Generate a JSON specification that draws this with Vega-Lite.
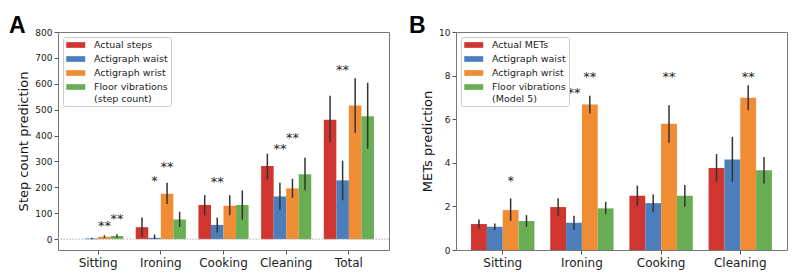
{
  "$schema": "https://vega.github.io/schema/vega-lite/v6.json",
  "padding": {"left": 8, "top": 14, "right": 5, "bottom": 3},
  "spacing": 18,
  "config": {
    "font": "DejaVu Sans",
    "view": {"stroke": "#777", "strokeWidth": 1},
    "axis": {"domain": false, "grid": false, "tickColor": "#555", "tickSize": 4, "labelColor": "#222", "titleColor": "#111", "titleFontWeight": "normal"},
    "axisY": {"labelFontSize": 9, "titleFontSize": 13, "labelPadding": 2, "titlePadding": 4},
    "axisX": {"labelFontSize": 12, "labelAngle": 0, "labelPadding": 3},
    "legend": {"orient": "top-left", "offset": 5, "padding": 3, "strokeColor": "#ccc", "fillColor": "white", "cornerRadius": 2, "labelFontSize": 9.5, "labelColor": "#222", "symbolType": "M-1,-0.6H3V0.6H-1Z", "symbolSize": 90, "symbolStrokeWidth": 0, "symbolOpacity": 1, "rowPadding": 4, "labelOffset": 18, "labelLimit": 200},
    "text": {"font": "DejaVu Sans"}
  },
  "datasets": {
    "stepsData": [
      {"activity": "Sitting", "series": "Actual steps", "value": 0, "lo": 0, "hi": 0},
      {"activity": "Sitting", "series": "Actigraph waist", "value": 2, "lo": 0, "hi": 5},
      {"activity": "Sitting", "series": "Actigraph wrist", "value": 9, "lo": 5, "hi": 15},
      {"activity": "Sitting", "series": "Floor vibrations|(step count)", "value": 12, "lo": 5, "hi": 19},
      {"activity": "Ironing", "series": "Actual steps", "value": 46, "lo": 10, "hi": 84},
      {"activity": "Ironing", "series": "Actigraph waist", "value": 5, "lo": 0, "hi": 18},
      {"activity": "Ironing", "series": "Actigraph wrist", "value": 175, "lo": 136, "hi": 218},
      {"activity": "Ironing", "series": "Floor vibrations|(step count)", "value": 76, "lo": 47, "hi": 106},
      {"activity": "Cooking", "series": "Actual steps", "value": 132, "lo": 92, "hi": 170},
      {"activity": "Cooking", "series": "Actigraph waist", "value": 55, "lo": 26, "hi": 84},
      {"activity": "Cooking", "series": "Actigraph wrist", "value": 129, "lo": 92, "hi": 169},
      {"activity": "Cooking", "series": "Floor vibrations|(step count)", "value": 132, "lo": 75, "hi": 188},
      {"activity": "Cleaning", "series": "Actual steps", "value": 282, "lo": 231, "hi": 330},
      {"activity": "Cleaning", "series": "Actigraph waist", "value": 165, "lo": 113, "hi": 218},
      {"activity": "Cleaning", "series": "Actigraph wrist", "value": 196, "lo": 160, "hi": 233},
      {"activity": "Cleaning", "series": "Floor vibrations|(step count)", "value": 251, "lo": 189, "hi": 314},
      {"activity": "Total", "series": "Actual steps", "value": 461, "lo": 374, "hi": 554},
      {"activity": "Total", "series": "Actigraph waist", "value": 227, "lo": 150, "hi": 303},
      {"activity": "Total", "series": "Actigraph wrist", "value": 516, "lo": 411, "hi": 621},
      {"activity": "Total", "series": "Floor vibrations|(step count)", "value": 475, "lo": 349, "hi": 604}
    ],
    "starsA": [
      {"activity": "Sitting", "series": "Actigraph wrist", "pos": 61, "label": "**"},
      {"activity": "Sitting", "series": "Floor vibrations|(step count)", "pos": 90, "label": "**"},
      {"activity": "Ironing", "series": "Actigraph waist", "pos": 237, "label": "*"},
      {"activity": "Ironing", "series": "Actigraph wrist", "pos": 290, "label": "**"},
      {"activity": "Cooking", "series": "Actigraph waist", "pos": 233, "label": "**"},
      {"activity": "Cleaning", "series": "Actigraph waist", "pos": 358, "label": "**"},
      {"activity": "Cleaning", "series": "Actigraph wrist", "pos": 403, "label": "**"},
      {"activity": "Total", "series": "Actigraph waist", "pos": 665, "label": "**"}
    ],
    "metsData": [
      {"activity": "Sitting", "series": "Actual METs", "value": 1.19, "lo": 0.99, "hi": 1.40},
      {"activity": "Sitting", "series": "Actigraph waist", "value": 1.07, "lo": 0.92, "hi": 1.22},
      {"activity": "Sitting", "series": "Actigraph wrist", "value": 1.83, "lo": 1.34, "hi": 2.37},
      {"activity": "Sitting", "series": "Floor vibrations|(Model 5)", "value": 1.33, "lo": 1.07, "hi": 1.60},
      {"activity": "Ironing", "series": "Actual METs", "value": 1.97, "lo": 1.57, "hi": 2.37},
      {"activity": "Ironing", "series": "Actigraph waist", "value": 1.25, "lo": 0.92, "hi": 1.57},
      {"activity": "Ironing", "series": "Actigraph wrist", "value": 6.67, "lo": 6.26, "hi": 7.07},
      {"activity": "Ironing", "series": "Floor vibrations|(Model 5)", "value": 1.91, "lo": 1.63, "hi": 2.21},
      {"activity": "Cooking", "series": "Actual METs", "value": 2.49, "lo": 2.03, "hi": 2.95},
      {"activity": "Cooking", "series": "Actigraph waist", "value": 2.15, "lo": 1.76, "hi": 2.55},
      {"activity": "Cooking", "series": "Actigraph wrist", "value": 5.79, "lo": 4.92, "hi": 6.64},
      {"activity": "Cooking", "series": "Floor vibrations|(Model 5)", "value": 2.49, "lo": 1.98, "hi": 2.98},
      {"activity": "Cleaning", "series": "Actual METs", "value": 3.76, "lo": 3.13, "hi": 4.40},
      {"activity": "Cleaning", "series": "Actigraph waist", "value": 4.15, "lo": 3.13, "hi": 5.19},
      {"activity": "Cleaning", "series": "Actigraph wrist", "value": 6.98, "lo": 6.41, "hi": 7.56},
      {"activity": "Cleaning", "series": "Floor vibrations|(Model 5)", "value": 3.66, "lo": 3.05, "hi": 4.27}
    ],
    "starsB": [
      {"activity": "Sitting", "series": "Actigraph wrist", "pos": 3.28, "label": "*"},
      {"activity": "Ironing", "series": "Actigraph waist", "pos": 7.36, "label": "**"},
      {"activity": "Ironing", "series": "Actigraph wrist", "pos": 8.06, "label": "**"},
      {"activity": "Cooking", "series": "Actigraph wrist", "pos": 8.06, "label": "**"},
      {"activity": "Cleaning", "series": "Actigraph wrist", "pos": 8.06, "label": "**"}
    ]
  },
  "hconcat": [
    {
      "width": 331,
      "height": 218,
      "title": {"text": "A", "anchor": "start", "frame": "group", "dx": -49, "offset": -10, "fontSize": 23, "fontWeight": "bold", "font": "Liberation Sans", "color": "#000"},
      "layer": [
        {
          "data": {"name": "stepsData"},
          "mark": {"type": "bar"},
          "encoding": {
            "x": {"field": "activity", "type": "nominal", "title": null, "scale": {"domain": ["Sitting", "Ironing", "Cooking", "Cleaning", "Total"], "paddingInner": 0.2, "paddingOuter": 0.24}},
            "xOffset": {"field": "series", "type": "nominal", "scale": {"domain": ["Actual steps", "Actigraph waist", "Actigraph wrist", "Floor vibrations|(step count)"]}},
            "y": {"field": "value", "type": "quantitative", "title": "Step count prediction", "scale": {"domain": [-42, 800], "nice": false}, "axis": {"values": [0, 100, 200, 300, 400, 500, 600, 700, 800]}},
            "color": {"field": "series", "type": "nominal", "title": null, "scale": {"domain": ["Actual steps", "Actigraph waist", "Actigraph wrist", "Floor vibrations|(step count)"], "range": ["#d0352f", "#4a7fbb", "#f08c33", "#69ae55"]}, "legend": {"labelExpr": "split(datum.label, '|')"}}
          }
        },
        {
          "data": {"values": [{"z": 0}]},
          "mark": {"type": "rule", "strokeDash": [1.5, 1.5], "color": "#aaa", "strokeWidth": 1},
          "encoding": {"y": {"field": "z", "type": "quantitative", "title": "Step count prediction", "axis": {"values": [0, 100, 200, 300, 400, 500, 600, 700, 800]}}}
        },
        {
          "data": {"name": "stepsData"},
          "mark": {"type": "rule", "color": "#333", "strokeWidth": 1.5},
          "encoding": {
            "x": {"field": "activity", "type": "nominal"},
            "xOffset": {"field": "series", "type": "nominal"},
            "y": {"field": "lo", "type": "quantitative", "title": "Step count prediction", "axis": {"values": [0, 100, 200, 300, 400, 500, 600, 700, 800]}},
            "y2": {"field": "hi"}
          }
        },
        {
          "data": {"name": "starsA"},
          "mark": {"type": "text", "fontSize": 13, "dy": 7, "baseline": "alphabetic", "fill": "#222", "color": "#222"},
          "encoding": {
            "x": {"field": "activity", "type": "nominal"},
            "xOffset": {"field": "series", "type": "nominal"},
            "y": {"field": "pos", "type": "quantitative", "title": "Step count prediction", "axis": {"values": [0, 100, 200, 300, 400, 500, 600, 700, 800]}},
            "text": {"field": "label"}
          }
        }
      ]
    },
    {
      "width": 331,
      "height": 218,
      "title": {"text": "B", "anchor": "start", "frame": "group", "dx": -47, "offset": -10, "fontSize": 23, "fontWeight": "bold", "font": "Liberation Sans", "color": "#000"},
      "layer": [
        {
          "data": {"name": "metsData"},
          "mark": {"type": "bar"},
          "encoding": {
            "x": {"field": "activity", "type": "nominal", "title": null, "scale": {"domain": ["Sitting", "Ironing", "Cooking", "Cleaning"], "paddingInner": 0.2, "paddingOuter": 0.19}},
            "xOffset": {"field": "series", "type": "nominal", "scale": {"domain": ["Actual METs", "Actigraph waist", "Actigraph wrist", "Floor vibrations|(Model 5)"]}},
            "y": {"field": "value", "type": "quantitative", "title": "METs prediction", "scale": {"domain": [0, 10], "nice": false}, "axis": {"values": [0, 2, 4, 6, 8, 10]}},
            "color": {"field": "series", "type": "nominal", "title": null, "scale": {"domain": ["Actual METs", "Actigraph waist", "Actigraph wrist", "Floor vibrations|(Model 5)"], "range": ["#d0352f", "#4a7fbb", "#f08c33", "#69ae55"]}, "legend": {"labelExpr": "split(datum.label, '|')"}}
          }
        },
        {
          "data": {"name": "metsData"},
          "mark": {"type": "rule", "color": "#333", "strokeWidth": 1.5},
          "encoding": {
            "x": {"field": "activity", "type": "nominal"},
            "xOffset": {"field": "series", "type": "nominal"},
            "y": {"field": "lo", "type": "quantitative", "title": "METs prediction", "axis": {"values": [0, 2, 4, 6, 8, 10]}},
            "y2": {"field": "hi"}
          }
        },
        {
          "data": {"name": "starsB"},
          "mark": {"type": "text", "fontSize": 13, "dy": 7, "baseline": "alphabetic", "fill": "#222", "color": "#222"},
          "encoding": {
            "x": {"field": "activity", "type": "nominal"},
            "xOffset": {"field": "series", "type": "nominal"},
            "y": {"field": "pos", "type": "quantitative", "title": "METs prediction", "axis": {"values": [0, 2, 4, 6, 8, 10]}},
            "text": {"field": "label"}
          }
        }
      ]
    }
  ],
  "resolve": {
    "scale": {"x": "independent", "y": "independent", "xOffset": "independent", "color": "independent"},
    "legend": {"color": "independent"},
    "axis": {"x": "independent", "y": "independent"}
  }
}
